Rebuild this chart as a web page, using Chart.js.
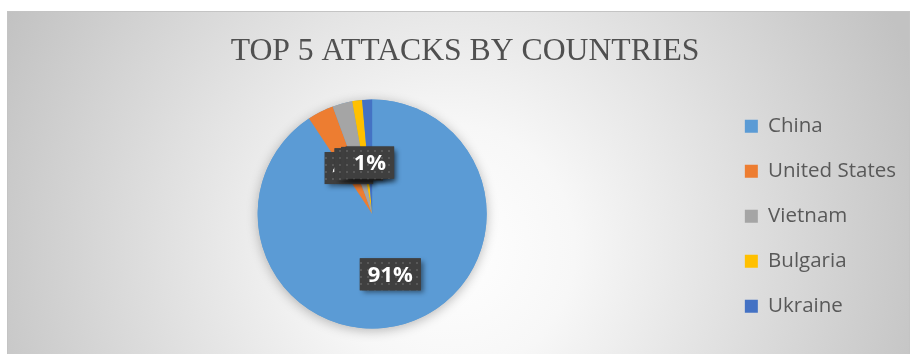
<!DOCTYPE html>
<html>
<head>
<meta charset="utf-8">
<script src="https://cdn.jsdelivr.net/npm/chart.js@4.4.1/dist/chart.umd.min.js"></script>
<style>
  html, body { margin: 0; padding: 0; background: #fff; }
</style>
</head>
<body>
<canvas id="attack-chart" width="912" height="354"></canvas>
<script>
const countries = ['China', 'United States', 'Vietnam', 'Bulgaria', 'Ukraine'];
const shares = [90.7, 3.7, 2.8, 1.4, 1.4];
const sliceColors = ['#5b9bd5', '#ed7d31', '#a5a5a5', '#ffc000', '#4472c4'];

// dotted dark fill used behind the percent labels
function makeDotPattern(ctx) {
    const tile = document.createElement('canvas');
    tile.width = 7;
    tile.height = 7;
    const t = tile.getContext('2d');
    t.fillStyle = '#3f3f3f';
    t.fillRect(0, 0, 7, 7);
    t.fillStyle = '#585858';
    t.fillRect(3, 3, 2, 2);
    return ctx.createPattern(tile, 'repeat');
}

const backdrop = {
    id: 'backdrop',
    beforeDraw(chart) {
        const ctx = chart.ctx;
        ctx.save();
        ctx.fillStyle = '#ffffff';
        ctx.fillRect(0, 0, chart.width, chart.height);
        const g = ctx.createRadialGradient(450, 250, 0, 450, 250, 500);
        g.addColorStop(0, '#ffffff');
        g.addColorStop(0.25, '#f7f7f7');
        g.addColorStop(1, '#c2c2c2');
        ctx.fillStyle = g;
        ctx.fillRect(7, 11, 903, 343);
        ctx.strokeStyle = '#c4c4c4';
        ctx.lineWidth = 1;
        ctx.strokeRect(7.5, 11.5, 902, 350);
        ctx.restore();
    }
};

const pieShadow = {
    id: 'pieShadow',
    beforeDatasetsDraw(chart) {
        const arc = chart.getDatasetMeta(0).data[0];
        if (!arc) return;
        const ctx = chart.ctx;
        ctx.save();
        ctx.shadowColor = 'rgba(0,0,0,0.28)';
        ctx.shadowBlur = 12;
        ctx.shadowOffsetY = 2;
        ctx.fillStyle = '#5b9bd5';
        ctx.beginPath();
        ctx.arc(arc.x, arc.y, arc.outerRadius, 0, Math.PI * 2);
        ctx.fill();
        ctx.restore();
    }
};

const percentBoxes = {
    id: 'percentBoxes',
    afterDatasetsDraw(chart) {
        const ctx = chart.ctx;
        const meta = chart.getDatasetMeta(0);
        const total = shares.reduce((a, b) => a + b, 0);
        const pattern = makeDotPattern(ctx);
        ctx.save();
        ctx.font = 'bold 22px "Open Sans"';
        ctx.textAlign = 'center';
        ctx.textBaseline = 'middle';
        meta.data.forEach((arc, i) => {
            const mid = (arc.startAngle + arc.endAngle) / 2;
            const f = i === 0 ? 0.55 : 0.45;
            const cx = arc.x + Math.cos(mid) * arc.outerRadius * f;
            const cy = arc.y + Math.sin(mid) * arc.outerRadius * f;
            const text = Math.round(shares[i] / total * 100) + '%';
            const w = ctx.measureText(text).width + 16;
            const h = 32;
            ctx.save();
            ctx.shadowColor = 'rgba(0,0,0,0.45)';
            ctx.shadowBlur = 5;
            ctx.shadowOffsetX = 3;
            ctx.shadowOffsetY = 3;
            ctx.fillStyle = '#3f3f3f';
            ctx.fillRect(cx - w / 2, cy - h / 2, w, h);
            ctx.restore();
            ctx.fillStyle = pattern;
            ctx.fillRect(cx - w / 2, cy - h / 2, w, h);
            ctx.fillStyle = '#ffffff';
            ctx.fillText(text, cx, cy + 1);
        });
        ctx.restore();
    }
};

new Chart(document.getElementById('attack-chart'), {
    type: 'pie',
    data: {
        labels: countries,
        datasets: [{
            data: shares,
            backgroundColor: sliceColors,
            borderWidth: 0,
            radius: 114.5
        }]
    },
    options: {
        responsive: false,
        animation: false,
        layout: { padding: { left: 24, right: 6, top: 0, bottom: 0 } },
        plugins: {
            title: {
                display: true,
                text: 'TOP 5 ATTACKS BY COUNTRIES',
                color: '#505050',
                font: { family: 'Liberation Serif', size: 31.7, weight: 'normal' },
                padding: { top: 33, bottom: 3 }
            },
            legend: {
                display: true,
                position: 'right',
                align: 'center',
                maxWidth: 188,
                title: { display: true, text: ' ', font: { size: 12 }, padding: { top: 64, bottom: 0 } },
                labels: {
                    boxWidth: 13,
                    boxHeight: 13,
                    padding: 24.5,
                    color: '#595959',
                    font: { family: 'Open Sans', size: 20.5 }
                }
            },
            tooltip: { enabled: false }
        }
    },
    plugins: [backdrop, pieShadow, percentBoxes]
});
</script>
</body>
</html>
